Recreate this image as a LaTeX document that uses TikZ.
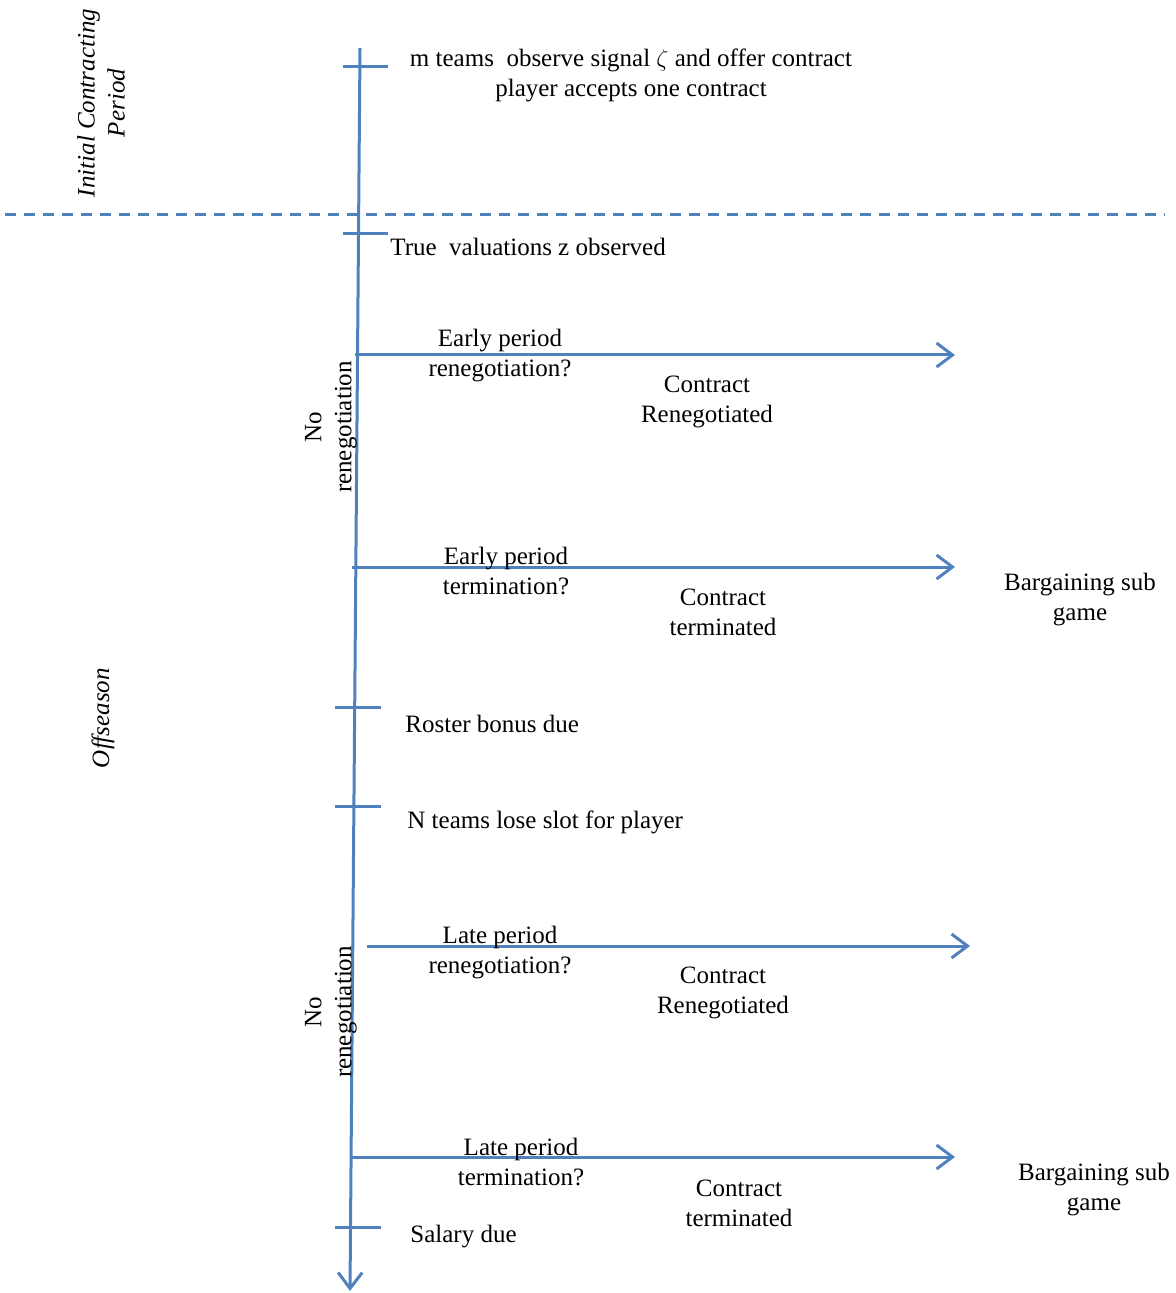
\documentclass[tikz,border=0pt]{standalone}
\usepackage{fontspec}
\setmainfont{Liberation Serif}
\usetikzlibrary{arrows.meta}
\definecolor{lineblue}{HTML}{4F81BD}

\tikzset{
  axis/.style={draw=lineblue,line width=1.5pt},
  branch/.style={axis,-{Straight Barb[length=8pt,width=12pt,line width=1.5pt]}},
  lbl/.style={font=\fontsize{12.5}{15}\selectfont,align=center,inner sep=0pt},
  txt/.style={lbl,yshift=-1.3pt},
  side/.style={lbl,rotate=90},
}

\begin{document}
\begin{tikzpicture}[x=0.5pt,y=-0.5pt]
  \useasboundingbox (0,0) rectangle (1175,1293);
  % time line
  \coordinate (top) at (360,48);
  \coordinate (bot) at (350,1291);
  \draw[branch] (top) -- (bot);
  \foreach \n/\y/\a/\b in {a/67/343/388,b/234/343/388,c/707/335/381,d/806/335/381,e/1227/335/381}{
    \coordinate (\n1) at (\a,\y);
    \coordinate (\n2) at (\b,\y);
    \draw[axis] (\n1) -- (\n2);}
  % period split
  \coordinate (dl) at (5,215);
  \coordinate (dr) at (1165,215);
  \draw[axis,dash pattern=on 5.5pt off 4pt] (dl) -- (dr);
  % branches
  \foreach \n/\y/\a/\b in {r1/355/355/955,t1/567/352/955,r2/946/367/970,t2/1157/352/955}{
    \coordinate (\n s) at (\a,\y);
    \coordinate (\n e) at (\b,\y);
    \draw[branch] (\n s) -- (\n e);}
  % labels
  \node[txt] (offer) at (631,73) {m teams\ \ observe signal $\zeta$ and offer contract\\player accepts one contract};
  \node[txt,anchor=west] (truev) at (390,244) {True\ \ valuations z observed};
  \node[txt] (epr) at (500,353) {Early period\\renegotiation?};
  \node[txt] (crn1) at (707,399) {Contract\\Renegotiated};
  \node[txt] (ept) at (506,568) {Early period\\termination?};
  \node[txt] (ctm1) at (723,610) {Contract\\terminated};
  \node[txt] (bsg1) at (1080,597) {Bargaining sub\\game};
  \node[txt,anchor=west] (roster) at (405,721) {Roster bonus due};
  \node[txt,anchor=west] (slot) at (407,820) {N teams lose slot for player};
  \node[txt] (lpr) at (500,950) {Late period\\renegotiation?};
  \node[txt] (crn2) at (723,990) {Contract\\Renegotiated};
  \node[txt] (lpt) at (521,1159) {Late period\\termination?};
  \node[txt] (ctm2) at (739,1201) {Contract\\terminated};
  \node[txt] (bsg2) at (1094,1187) {Bargaining sub\\game};
  \node[txt,anchor=west] (salary) at (410,1234) {Salary due};
  \node[side] (noreg1) at (331,427) {No\\renegotiation};
  \node[side] (noreg2) at (331,1012) {No\\renegotiation};
  \node[side,font=\fontsize{12.5}{15}\selectfont\itshape] (initial) at (101,103) {Initial Contracting\\Period};
  \node[side,font=\fontsize{12.5}{15}\selectfont\itshape] (offs) at (103,718) {Offseason};
\end{tikzpicture}
\end{document}
